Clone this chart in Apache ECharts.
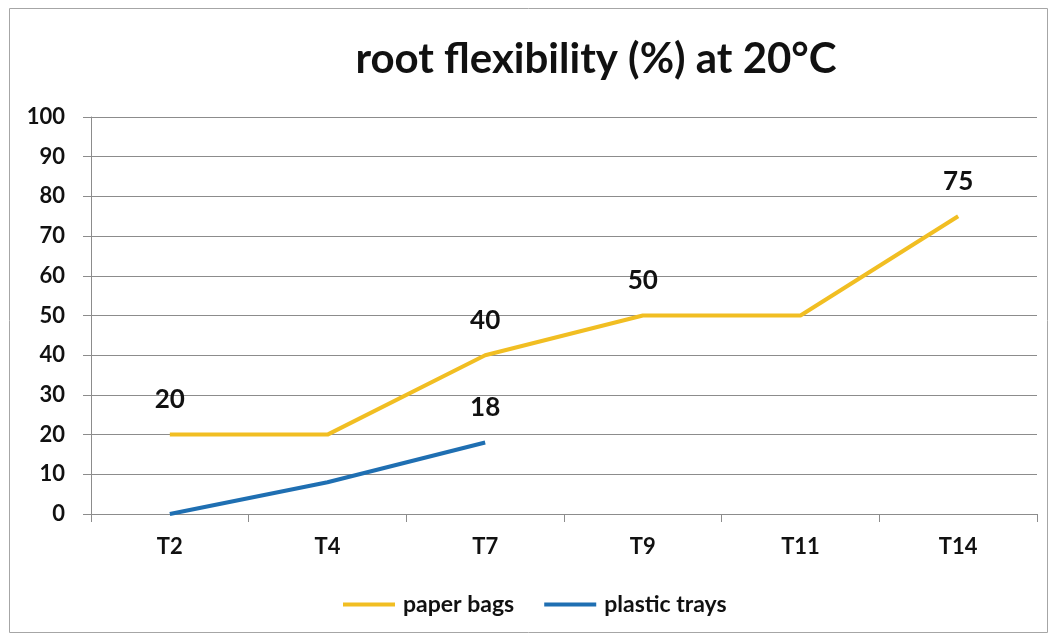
<!DOCTYPE html>
<html>
<head>
<meta charset="utf-8">
<script src="https://cdn.jsdelivr.net/npm/echarts@6/dist/echarts.min.js"></script>
<style>
  html, body { margin: 0; padding: 0; background: #fff; }
  #chart { width: 1056px; height: 643px; }
</style>
</head>
<body>
<div id="chart"></div>
<script>
// Sampling times
const categories = ['T2', 'T4', 'T7', 'T9', 'T11', 'T14'];
// Root flexibility (%) per storage type
const paperBags = [20, 20, 40, 50, 50, 75];
const plasticTrays = [0, 8, 18];
// Which points carry a value label
const paperLabeled = [true, false, true, true, false, true];
const plasticLabeled = [false, false, true];

const FONT = 'Lato, "Open Sans", sans-serif';
const GRID = '#8c8c8c';

function withLabels(values, flags) {
  return values.map((v, i) => ({
    value: v,
    label: { show: flags[i] }
  }));
}

const labelStyle = {
  position: 'top',
  distance: 22,
  fontFamily: FONT,
  fontWeight: 'bold',
  fontSize: 26,
  color: '#111'
};

const chart = echarts.init(document.getElementById('chart'), null, { renderer: 'canvas' });
chart.setOption({
  backgroundColor: '#fff',
  animation: false,
  graphic: [{
    type: 'rect',
    shape: { x: 9.5, y: 8.5, width: 1038, height: 624 },
    style: { fill: 'none', stroke: '#a6a6a6', lineWidth: 1 },
    silent: true,
    z: -1
  }],
  title: {
    text: 'root flexibility (%) at 20°C',
    left: 591,
    top: 33,
    textAlign: 'center',
    textStyle: { fontFamily: FONT, fontSize: 42, fontWeight: 'bold', color: '#111' }
  },
  grid: { left: 91, right: 19, top: 117, bottom: 129 },
  legend: {
    bottom: 22,
    left: 338,
    itemWidth: 52,
    itemHeight: 4,
    itemGap: 30,
    icon: 'rect',
    textStyle: { fontFamily: FONT, fontSize: 23, fontWeight: 'bold', color: '#111', padding: [0, 0, 0, 3] },
    data: ['paper bags', 'plastic trays']
  },
  xAxis: {
    type: 'category',
    data: categories,
    boundaryGap: true,
    axisLine: { lineStyle: { color: GRID, width: 1 } },
    axisTick: { show: true, length: 8, alignWithLabel: false, lineStyle: { color: GRID } },
    axisLabel: { fontFamily: FONT, fontSize: 22, fontWeight: 'bold', color: '#111', margin: 22 }
  },
  yAxis: {
    type: 'value',
    min: 0,
    max: 100,
    interval: 10,
    axisLine: { show: true, lineStyle: { color: GRID, width: 1 } },
    axisTick: { show: true, length: 8, lineStyle: { color: GRID } },
    splitLine: { lineStyle: { color: GRID, width: 1 } },
    axisLabel: { fontFamily: FONT, fontSize: 22, fontWeight: 'bold', color: '#111', margin: 26 }
  },
  series: [
    {
      name: 'paper bags',
      type: 'line',
      data: withLabels(paperBags, paperLabeled),
      symbol: 'circle',
      symbolSize: 0.1,
      lineStyle: { color: '#F1BE22', width: 4 },
      itemStyle: { color: '#F1BE22' },
      label: labelStyle,
      z: 3
    },
    {
      name: 'plastic trays',
      type: 'line',
      data: withLabels(plasticTrays, plasticLabeled),
      symbol: 'circle',
      symbolSize: 0.1,
      lineStyle: { color: '#1F6FB2', width: 4 },
      itemStyle: { color: '#1F6FB2' },
      label: labelStyle,
      z: 4
    }
  ]
});
</script>
</body>
</html>
